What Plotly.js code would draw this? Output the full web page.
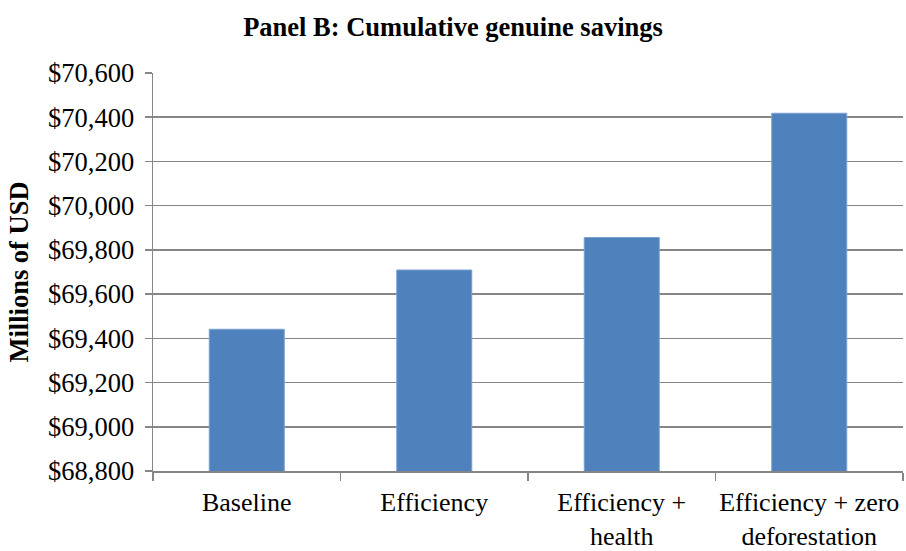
<!DOCTYPE html>
<html>
<head>
<meta charset="utf-8">
<script src="https://cdn.plot.ly/plotly-3.0.1.min.js"></script>
<style>html,body{margin:0;padding:0;background:#fff;}#chart{width:906px;height:551px;}</style>
</head>
<body>
<div id="chart"></div>
<script>
const categories = ["Baseline", "Efficiency", "Efficiency +<br>health", "Efficiency + zero<br>deforestation"];
const savings = [69441, 69709, 69856, 70418];
const yTicks = [68800, 69000, 69200, 69400, 69600, 69800, 70000, 70200, 70400, 70600];
const yTickText = yTicks.map(v => "$" + v.toLocaleString("en-US"));

const font = "Liberation Serif";

Plotly.newPlot("chart", [{
  type: "bar",
  x: categories,
  y: savings,
  marker: {color: "#4F81BD", line: {color: "#7aa0d0", width: 1}},
  hoverinfo: "none"
}], {
  width: 906, height: 551,
  font: {family: font, size: 26, color: "#000"},
  margin: {l: 153, r: 3, t: 73, b: 80, pad: 0},
  paper_bgcolor: "#fff", plot_bgcolor: "#fff",
  bargap: 0.6,
  showlegend: false,
  title: {text: "<b>Panel B: Cumulative genuine savings</b>", font: {family: font, size: 26.5, color: "#000"}, x: 0.5, xanchor: "center", y: 0.952, yanchor: "middle"},
  xaxis: {
    type: "category",
    showgrid: false,
    showline: true, linecolor: "#868686", linewidth: 1.5,
    ticks: "outside", tickson: "boundaries", ticklen: 8, tickcolor: "#868686", tickwidth: 1.5,
    tickfont: {family: font, size: 26, color: "#000"},
    tickangle: 0,
    ticklabelstandoff: 7,
    automargin: false,
    fixedrange: true
  },
  yaxis: {
    range: [68800, 70600],
    tickmode: "array",
    tickvals: yTicks,
    ticktext: yTickText,
    showgrid: true, gridcolor: "#868686", gridwidth: 1.5,
    showline: true, linecolor: "#868686", linewidth: 1.5,
    ticks: "outside", ticklen: 7, tickcolor: "#868686", tickwidth: 1.5,
    tickfont: {family: font, size: 26.5, color: "#000"},
    ticklabelstandoff: 5,
    zeroline: false,
    automargin: false,
    title: {text: "<b>Millions of USD</b>", font: {family: font, size: 26.5, color: "#000"}, standoff: 12},
    fixedrange: true
  }
}, {displayModeBar: false, staticPlot: true});
</script>
</body>
</html>
